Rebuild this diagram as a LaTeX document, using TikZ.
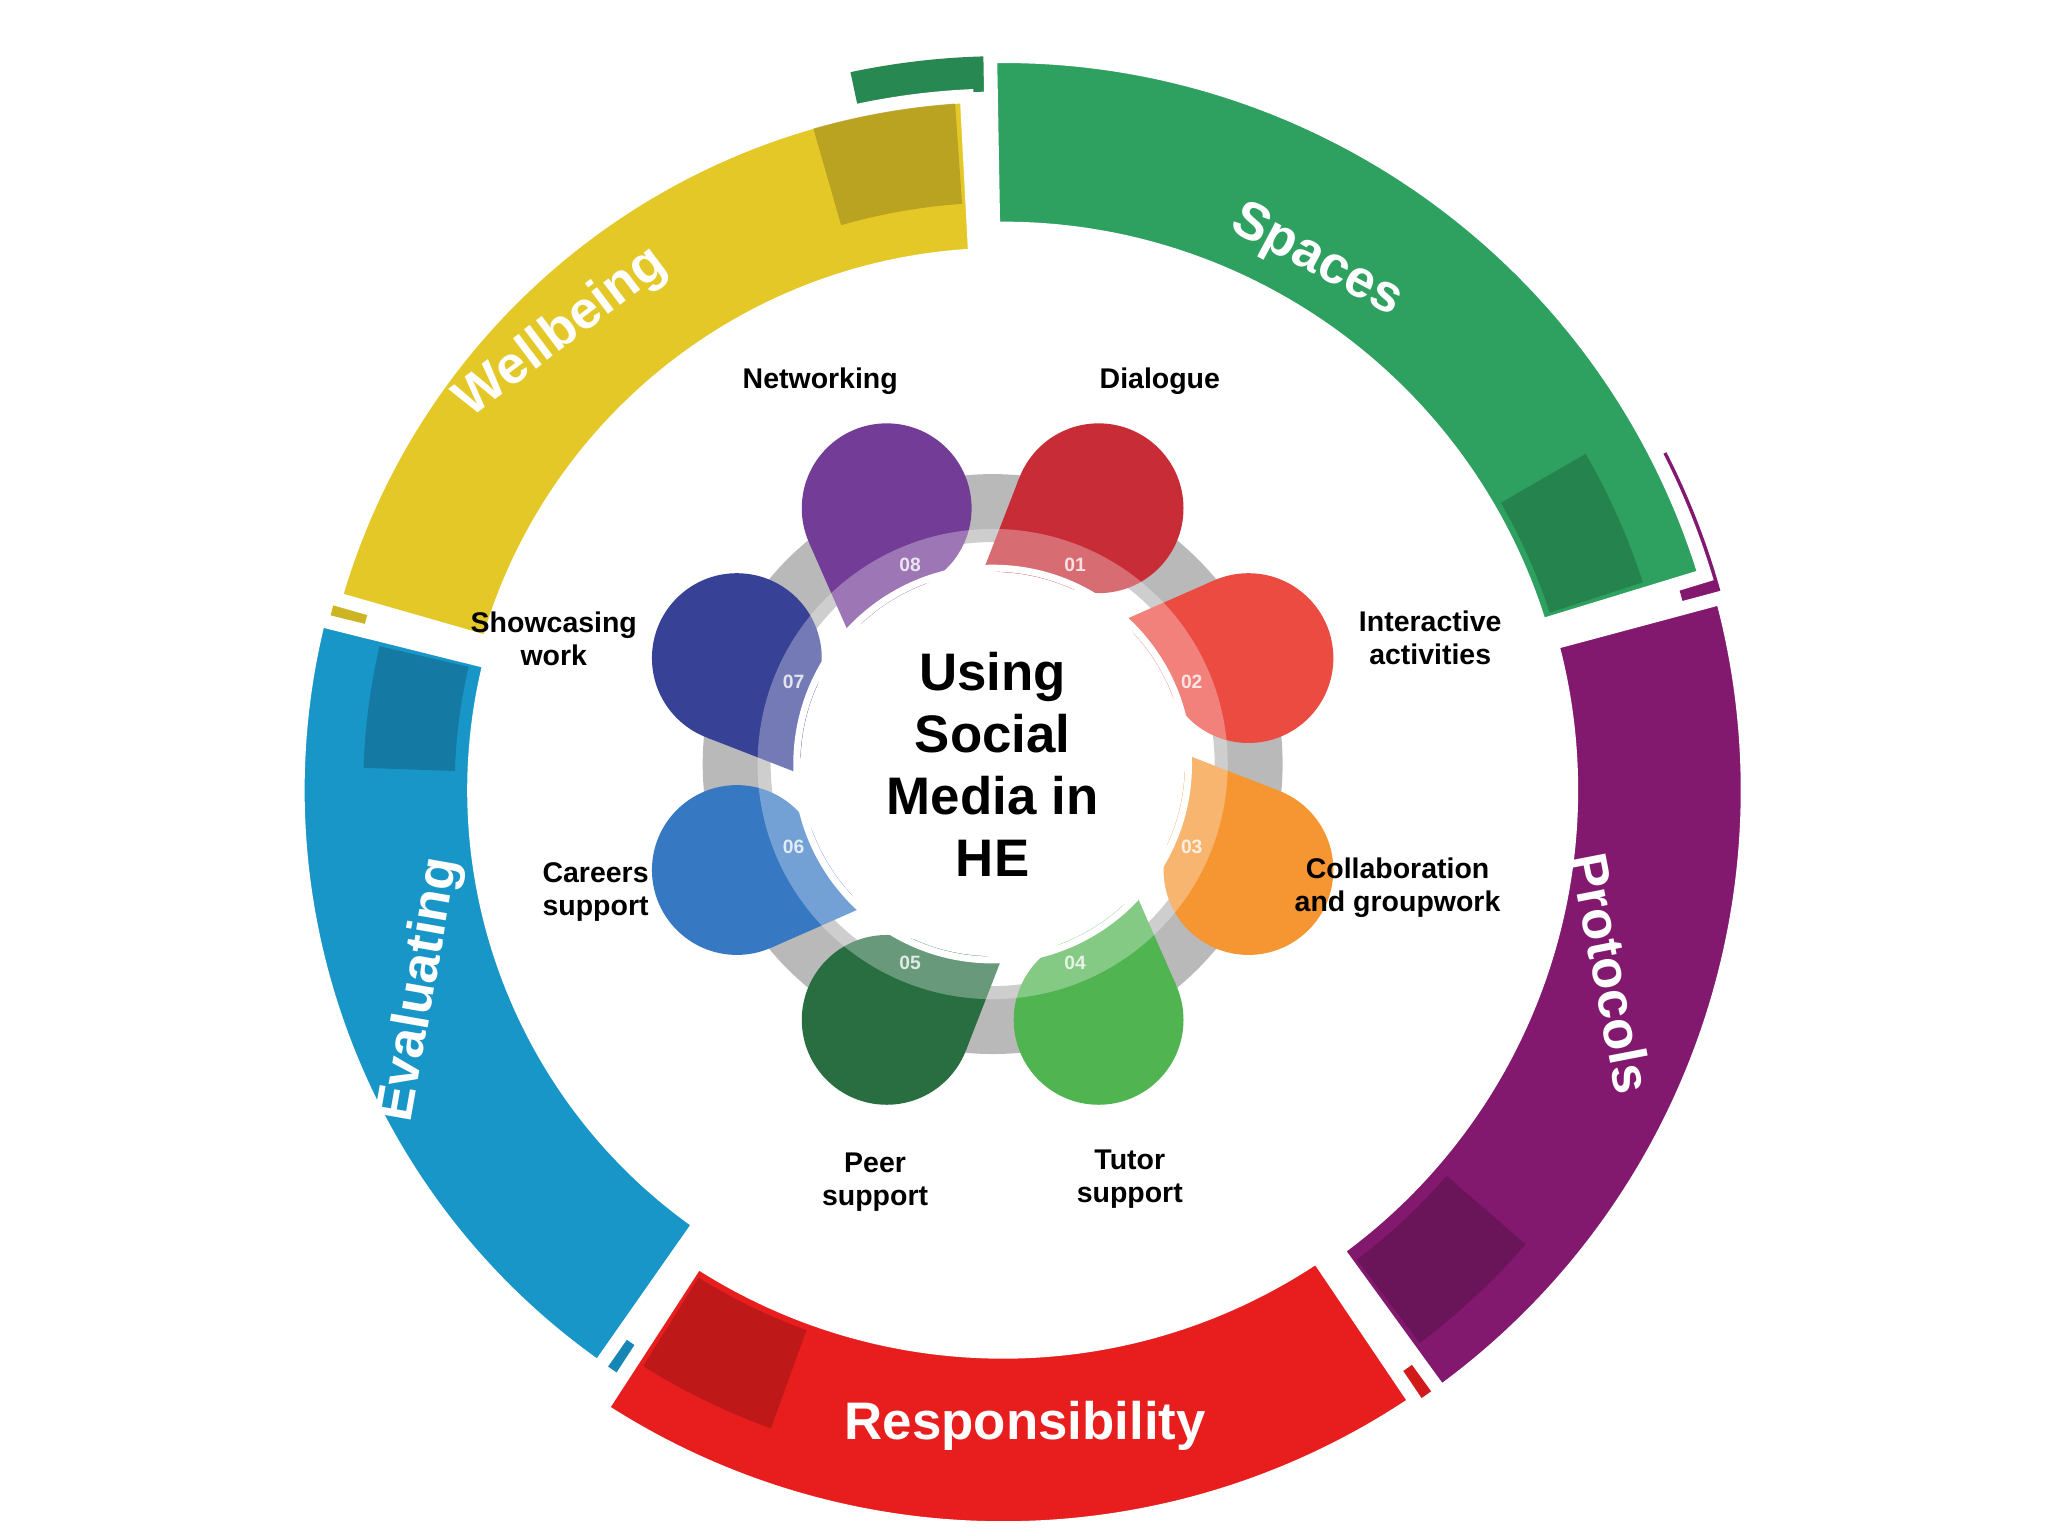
\documentclass[tikz,border=0pt]{standalone}
\usepackage{fontspec}
\setmainfont{Liberation Sans}
\usetikzlibrary{calc}
\definecolor{cSp}{RGB}{46,160,95}
\definecolor{cPr}{RGB}{130,25,110}
\definecolor{cRe}{RGB}{232,30,30}
\definecolor{cEv}{RGB}{25,150,200}
\definecolor{cWe}{RGB}{228,200,40}
\definecolor{p1}{RGB}{200,45,55}
\definecolor{p2}{RGB}{235,75,65}
\definecolor{p3}{RGB}{245,150,50}
\definecolor{p4}{RGB}{80,180,80}
\definecolor{p5}{RGB}{40,110,65}
\definecolor{p6}{RGB}{55,120,195}
\definecolor{p7}{RGB}{55,65,150}
\definecolor{p8}{RGB}{115,60,150}
\tikzset{
  lbl/.style={font=\fontsize{6.2pt}{7.2pt}\selectfont\bfseries,align=center,text=black},
  ring/.style={font=\fontsize{11.5pt}{14pt}\selectfont\bfseries,text=white},
  num/.style={font=\fontsize{4.2pt}{5pt}\selectfont\bfseries,text=white,opacity=0.8}
}
\newcommand{\mysector}[6]{% color, a1, a2, r, R, extra options
  \fill[#1,#6] ($(R)+(#2:#5)$) arc[start angle=#2,end angle=#3,radius=#5] -- ($(R)+(#3:#4)$) arc[start angle=#3,end angle=#2,radius=#4] -- cycle;}
\begin{document}
\begin{tikzpicture}[x=0.01cm,y=0.01cm]
\useasboundingbox (0,0) rectangle (1568,1176);
\fill[white] (0,0) rectangle (1568,1176);
\coordinate (R) at (768,571);
% tails
\mysector{cSp!85!black}{91}{102}{535}{562}{}
\mysector{cPr}{15}{27}{540}{570}{}
\mysector{cRe!90!black}{304}{315}{540}{565}{}
\mysector{cEv!90!black}{235}{245}{510}{535}{}
\mysector{cWe!90!black}{164}{172}{505}{532}{}
% segments
\mysector{cSp}{17}{91}{430}{562}{draw=white,line width=3pt}
\mysector{cWe}{93}{164}{410}{532}{draw=white,line width=3pt}
\mysector{cEv}{166}{235}{405}{540}{draw=white,line width=3pt}
\mysector{cRe}{237}{304}{430}{565}{draw=white,line width=3pt}
\mysector{cPr}{306}{375}{435}{570}{draw=white,line width=3pt}
% dark patches
\mysector{cSp!60!black}{18}{30}{440}{515}{opacity=0.45}
\mysector{cWe!60!black}{94}{106}{450}{527}{opacity=0.45}
\mysector{cEv!60!black}{167}{178}{420}{490}{opacity=0.45}
\mysector{cRe!60!black}{238}{250}{440}{520}{opacity=0.45}
\mysector{cPr!60!black}{307}{319}{450}{530}{opacity=0.45}
% ring labels
\node[ring,rotate=-28] (tSp) at (1008,976) {Spaces};
\node[ring,rotate=37] (tWe) at (430,921) {Wellbeing};
\node[ring,rotate=80] (tEv) at (322,418) {Evaluating};
\node[ring,rotate=-79] (tPr) at (1234,431) {Protocols};
\node[ring] (tRe) at (785,84) {Responsibility};
% flower
\coordinate (F) at (760,591);
\fill[gray!55,even odd rule] (F) circle[radius=222] (F) circle[radius=170];
\foreach \k/\c in {1/p1,2/p2,3/p3,4/p4,5/p5,6/p6,7/p7,8/p8}{
  \pgfmathsetmacro{\ang}{67.5-45*(\k-1)}
  \coordinate (P\k) at ($(F)+(\ang:212)$);
  \coordinate (T\k) at ($(F)+(\ang+25:150)$);
  \fill[\c] (P\k) circle[radius=65];
  \fill[\c] (T\k) -- ($(P\k)!0.65cm!48:(T\k)$) -- (P\k) -- ($(P\k)!0.65cm!-48:(T\k)$) -- cycle;
}
\fill[white,opacity=0.3,even odd rule] (F) circle[radius=180] (F) circle[radius=145];
\fill[white] (F) circle[radius=147];
\draw[white,line width=1.5pt] (F) circle[radius=150];
\foreach \k in {1,...,8}{
  \pgfmathsetmacro{\ang}{67.5-45*(\k-1)}
  \node[num] (n\k) at ($(F)+(\ang:165)$) {0\k};
}
\node[font=\fontsize{11.5pt}{13.5pt}\selectfont\bfseries,align=center] (ctr) at (F) {Using\\Social\\Media in\\HE};
% petal labels
\node[lbl] (l8) at (628,884) {Networking};
\node[lbl] (l1) at (888,884) {Dialogue};
\node[lbl] (l2) at (1095,688) {Interactive\\activities};
\node[lbl] (l3) at (1070,496) {Collaboration\\and groupwork};
\node[lbl] (l4) at (865,273) {Tutor\\support};
\node[lbl] (l5) at (670,271) {Peer\\support};
\node[lbl] (l6) at (456,493) {Careers\\support};
\node[lbl] (l7) at (424,687) {Showcasing\\work};
\end{tikzpicture}
\end{document}
